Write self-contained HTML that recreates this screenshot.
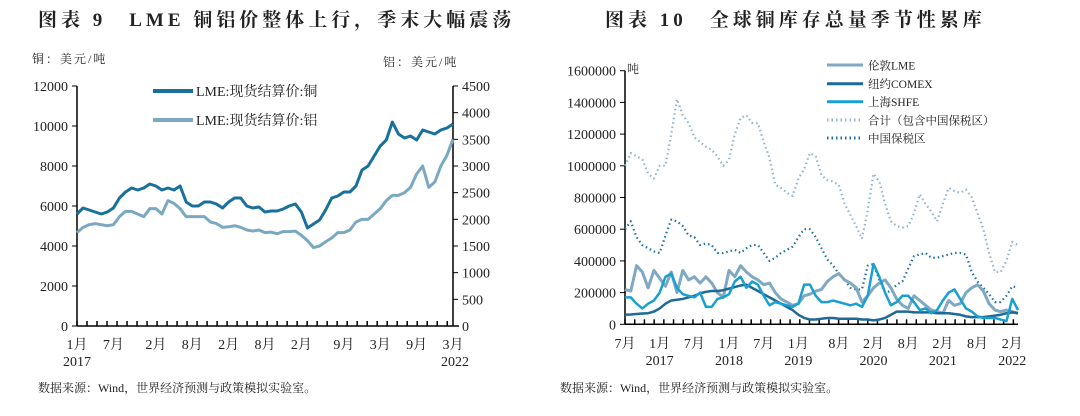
<!DOCTYPE html>
<html><head><meta charset="utf-8"><style>
body{margin:0;background:#fff;width:1080px;height:411px;overflow:hidden}
svg text{font-family:"Liberation Serif","Noto Serif CJK SC",serif;fill:#222}
.ttl{letter-spacing:4px}
.unit{letter-spacing:2px}
</style></head><body>
<svg id="svg" width="1080" height="411" viewBox="0 0 1080 411">
<text class="ttl" x="38" y="26" font-size="19" font-weight="bold">图表 9　LME 铜铝价整体上行，季末大幅震荡</text>
<text class="ttl" x="605" y="26" font-size="19" font-weight="bold">图表 10　全球铜库存总量季节性累库</text>
<text class="unit" x="32" y="63" font-size="12">铜：美元/吨</text>
<text class="unit" x="383" y="66" font-size="12">铝：美元/吨</text>
<text x="627" y="73" font-size="12">吨</text>
<text x="38" y="392" font-size="12">数据来源：Wind，世界经济预测与政策模拟实验室。</text>
<text x="560" y="392" font-size="12">数据来源：Wind，世界经济预测与政策模拟实验室。</text>
<g id="left"></g><g id="right"></g>
</svg>
<script>
const NS="http://www.w3.org/2000/svg";
// ---- left chart data (monthly, Jan 2017 - Mar 2022)
const copperPrice=[5600,5900,5800,5700,5600,5700,5900,6400,6700,6900,6800,6900,7100,7000,6800,6900,6800,7000,6200,6000,6000,6200,6200,6100,5900,6200,6400,6400,6000,5900,5950,5700,5750,5750,5850,6000,6100,5700,4900,5100,5300,5800,6400,6500,6700,6700,7000,7800,8000,8500,9000,9300,10200,9600,9400,9500,9300,9800,9700,9600,9800,9900,10100];
const aluPrice=[1750,1850,1900,1920,1900,1880,1900,2050,2150,2150,2100,2050,2200,2200,2100,2350,2300,2200,2050,2050,2050,2050,1950,1920,1850,1860,1880,1850,1800,1780,1800,1750,1760,1730,1770,1770,1780,1700,1600,1470,1500,1580,1650,1750,1750,1800,1950,2000,2000,2100,2200,2350,2450,2450,2500,2600,2850,3000,2600,2700,3000,3200,3500];
const leftTicks=[0,2000,4000,6000,8000,10000,12000];
const rightTicks=[0,500,1000,1500,2000,2500,3000,3500,4000,4500];
const leftXLabels=["1月","7月","2月","8月","2月","8月","2月","9月","3月","9月","3月"];
const leftXMonths=[0,6,13,19,25,31,37,44,50,56,62];
// ---- right chart data (monthly, Jul 2016 - Mar 2022)
const lmeStock=[220,210,370,330,230,340,290,240,330,200,340,280,300,260,300,260,200,170,340,300,370,330,300,280,250,260,200,160,140,120,130,180,190,210,220,270,300,320,280,260,230,140,180,230,260,280,230,160,120,100,180,150,120,90,80,70,150,120,130,200,230,250,210,130,90,80,90,80,70];
const comexStock=[60,62,65,68,70,80,100,130,150,155,160,170,180,195,205,210,210,215,225,235,245,250,230,210,190,170,150,130,110,90,60,40,30,30,35,40,40,35,35,35,35,30,30,25,30,40,60,80,80,80,75,75,75,75,70,70,70,65,60,50,45,45,45,50,55,60,70,75,70];
const shfeStock=[170,170,130,100,130,150,200,300,320,230,190,180,170,200,110,110,160,170,190,270,300,230,270,250,180,120,140,130,120,110,130,250,250,180,140,140,150,140,130,120,130,110,180,380,300,200,120,140,180,180,140,90,100,70,90,150,200,220,160,100,80,50,40,40,40,30,20,160,90];
const totalStock=[1000,1080,1060,1040,950,920,1000,1000,1200,1420,1320,1270,1180,1150,1120,1100,1060,1000,1040,1200,1300,1320,1270,1270,1150,1050,880,860,830,810,920,980,1080,1060,940,910,900,880,760,690,620,540,720,950,900,760,650,620,610,620,700,820,760,710,650,760,860,840,830,850,800,700,600,450,330,330,400,520,500];
const bondedStock=[600,650,550,500,480,460,450,560,660,650,620,560,550,500,510,500,450,450,460,470,450,480,500,500,450,400,420,450,470,490,550,600,600,550,480,410,370,320,280,230,220,220,370,380,280,200,210,250,270,350,430,440,450,420,420,430,440,450,450,440,330,270,230,190,140,140,180,240,230];
const stockTicks=[0,200000,400000,600000,800000,1000000,1200000,1400000,1600000];
const rightXLabels=["7月","1月","7月","1月","7月","1月","8月","2月","8月","2月","8月","2月"];
const rightXMonths=[0,6,12,18,24,30,37,43,49,55,61,67];
const rightYears=["2017","2018","2019","2020","2021","2022"];
const rightYearMonths=[6,18,30,43,55,67];

function el(tag,attrs,parent,txt){const e=document.createElementNS(NS,tag);for(const k in attrs)e.setAttribute(k,attrs[k]);if(txt!==undefined)e.textContent=txt;parent.appendChild(e);return e;}

// ---- LEFT
(function(){
const g=document.getElementById('left');
const x0=77,x1=453,yT=86,yB=326;
const xS=m=>x0+(x1-x0)*m/62;
const yL=v=>yB-(yB-yT)*v/12000;
const yR=v=>yB-(yB-yT)*v/4500;
let a=el('line',{x1:x0,y1:yT,x2:x0,y2:yB,stroke:'#000','stroke-width':1.5},g);


a=el('line',{x1:x1,y1:yT,x2:x1,y2:yB,stroke:'#000','stroke-width':1.5},g);


a=el('line',{x1:x0,y1:yB,x2:x1+6,y2:yB,stroke:'#000','stroke-width':1.5},g);


leftTicks.forEach(v=>{el('line',{x1:x0-5,y1:yL(v),x2:x0,y2:yL(v),stroke:'#000'},g);
 const t=el('text',{x:x0-9,y:yL(v)+5,'font-size':14,'text-anchor':'end'},g,String(v));
 
 });
rightTicks.forEach(v=>{el('line',{x1:x1,y1:yR(v),x2:x1+5,y2:yR(v),stroke:'#000'},g);
 const t=el('text',{x:x1+9,y:yR(v)+5,'font-size':14},g,String(v));
 
 });
for(let m=0;m<=62;m+=1.65)el('line',{x1:xS(m),y1:yB,x2:xS(m),y2:yB-5,stroke:'#000','stroke-width':1.5},g);
leftXLabels.forEach((s,i)=>{const t=el('text',{x:xS(leftXMonths[i]),y:349,'font-size':14,'text-anchor':'middle'},g,s);
 
 });
let t=el('text',{x:x0,y:366,'font-size':14,'text-anchor':'middle'},g,'2017');


t=el('text',{x:x1+2,y:366,'font-size':14,'text-anchor':'middle'},g,'2022');


const pA=aluPrice.map((v,i)=>xS(i)+','+yR(v)).join(' ');
let p=el('polyline',{points:pA,fill:'none',stroke:'#7ba8c1','stroke-width':3,'stroke-linejoin':'round'},g);


const pC=copperPrice.map((v,i)=>xS(i)+','+yL(v)).join(' ');
p=el('polyline',{points:pC,fill:'none',stroke:'#18709d','stroke-width':3,'stroke-linejoin':'round'},g);


let l=el('line',{x1:153,y1:91,x2:193,y2:91,stroke:'#18709d','stroke-width':4},g);


t=el('text',{x:196,y:96,'font-size':14},g,'LME:现货结算价:铜');


l=el('line',{x1:153,y1:120,x2:193,y2:120,stroke:'#7ba8c1','stroke-width':4},g);


t=el('text',{x:196,y:125,'font-size':14},g,'LME:现货结算价:铝');


})();

// ---- RIGHT
(function(){
const g=document.getElementById('right');
const x0=625,x1=1018,yT=70.7,yB=324.3;
const xS=m=>x0+(x1-x0)*m/68;
const yS=v=>yB-(yB-yT)*v/1600000;
let a=el('line',{x1:x0,y1:yT,x2:x0,y2:yB,stroke:'#000','stroke-width':1.5},g);


a=el('line',{x1:x0,y1:yB,x2:x1,y2:yB,stroke:'#000','stroke-width':1.5},g);


stockTicks.forEach(v=>{el('line',{x1:x0-5,y1:yS(v),x2:x0,y2:yS(v),stroke:'#000'},g);
 const t=el('text',{x:x0-9,y:yS(v)+5,'font-size':14,'text-anchor':'end'},g,String(v));
 
 });
for(let m=0;m<=68;m+=1.68)el('line',{x1:xS(m),y1:yB,x2:xS(m),y2:yB-5,stroke:'#000','stroke-width':1.5},g);
rightXLabels.forEach((s,i)=>{const t=el('text',{x:xS(rightXMonths[i]),y:348,'font-size':14,'text-anchor':'middle'},g,s);
 
 });
rightYears.forEach((s,i)=>{const t=el('text',{x:xS(rightYearMonths[i]),y:365,'font-size':14,'text-anchor':'middle'},g,s);
 
 });
const series=[
 [totalStock,'#8fb5cc',2.2,'1.5 3','total-stock-line','合计（包含中国保税区）'],
 [bondedStock,'#1f6f9f',2.2,'1.5 3','bonded-stock-line','中国保税区'],
 [lmeStock,'#7fa8c2',3,null,'lme-stock-line','伦敦LME'],
 [comexStock,'#1d6998',2.5,null,'comex-stock-line','纽约COMEX'],
 [shfeStock,'#1aa0d0',2.5,null,'shfe-stock-line','上海SHFE']];
series.forEach(s=>{const at={points:s[0].map((v,i)=>xS(i)+','+yS(v*1000)).join(' '),fill:'none',stroke:s[1],'stroke-width':s[2],'stroke-linejoin':'round'};
 if(s[3])at['stroke-dasharray']=s[3];
 const p=el('polyline',at,g);
 
 });
const leg=[[2,65],[3,83.7],[4,101.7],[0,120],[1,138]];
leg.forEach(([i,y])=>{const s=series[i];const at={x1:827,y1:y,x2:863,y2:y,stroke:s[1],'stroke-width':3};
 if(s[3])at['stroke-dasharray']='1.5 3';
 const l=el('line',at,g);
 
 
 const t=el('text',{x:868,y:y+4.5,'font-size':11.5},g,s[5]);
 
 });
})();
</script>
</body></html>
